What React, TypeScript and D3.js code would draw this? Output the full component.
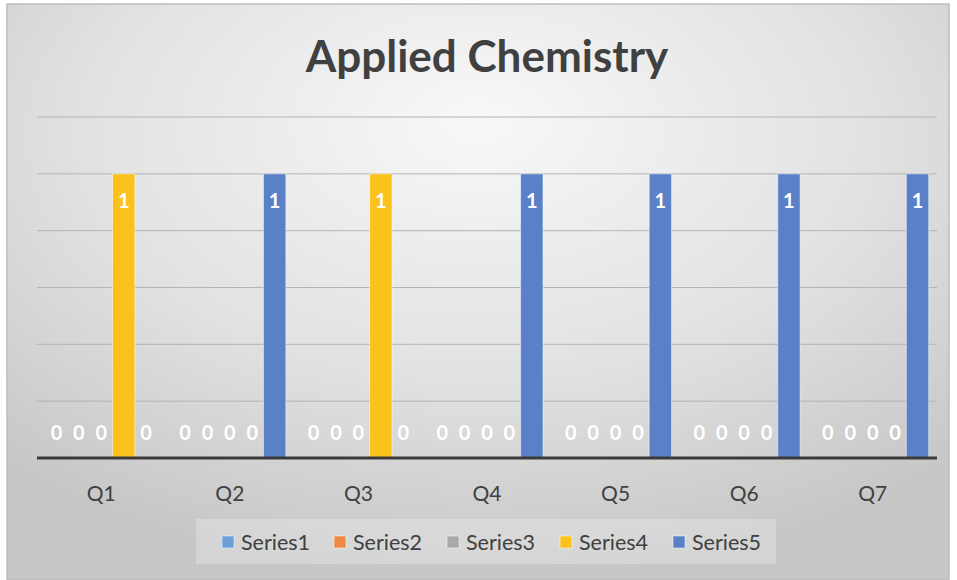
import React from "react";
import * as d3 from "d3";

const categories = ["Q1", "Q2", "Q3", "Q4", "Q5", "Q6", "Q7"];
const seriesNames = ["Series1", "Series2", "Series3", "Series4", "Series5"];
const series1 = [0, 0, 0, 0, 0, 0, 0];
const series2 = [0, 0, 0, 0, 0, 0, 0];
const series3 = [0, 0, 0, 0, 0, 0, 0];
const series4 = [1, 0, 1, 0, 0, 0, 0];
const series5 = [0, 1, 0, 1, 1, 1, 1];
const seriesColors = ["#6A9FD8", "#EE8A45", "#A9A9A9", "#FBC21E", "#5A81C8"];
const yTicks = [0, 0.2, 0.4, 0.6, 0.8, 1, 1.2];

const W = 957;
const H = 580;
const FONT = "Lato, 'Open Sans', sans-serif";

export default function App() {
  const allSeries = [series1, series2, series3, series4, series5];
  const left = 37, right = 937, top = 117, bottom = 458;
  const x0 = d3.scaleBand<string>().domain(categories).range([left, right]).padding(0);
  const x1 = d3.scaleBand<string>().domain(seriesNames).range([0, x0.bandwidth()]).paddingInner(0).paddingOuter(0.37);
  const y = d3.scaleLinear().domain([0, 1.2]).range([bottom, top]);

  const legendX = [222, 334, 447, 560, 673];

  return (
    <svg width={W} height={H} style={{ position: "absolute", left: 0, top: 0, display: "block" }}>
      <defs>
        <radialGradient id="bg" cx="50%" cy="25%" r="75%" fx="50%" fy="20%">
          <stop offset="0%" stopColor="#f8f8f8" />
          <stop offset="55%" stopColor="#e2e2e2" />
          <stop offset="100%" stopColor="#c6c6c6" />
        </radialGradient>
      </defs>
      <rect x={0} y={0} width={W} height={H} fill="#ffffff" />
      <rect x={7} y={4} width={942} height={576} fill="url(#bg)" stroke="#bdbdbd" strokeWidth={1.5} />
      <text x={487} y={72} textAnchor="middle" fontFamily={FONT} fontWeight={700} fontSize={44} fill="#404040">
        Applied Chemistry
      </text>
      {yTicks.filter((t) => t > 0).map((t) => (
        <line key={t} x1={left} x2={right} y1={y(t)} y2={y(t)} stroke="#b4b4b4" strokeWidth={1} />
      ))}
      {categories.map((c, ci) => (
        <g key={c} transform={`translate(${x0(c)},0)`}>
          {seriesNames.map((s, si) => {
            const v = allSeries[si][ci];
            const bx = x1(s)!;
            const bw = x1.bandwidth();
            const cx = bx + bw / 2;
            return (
              <g key={s}>
                {v > 0 && (
                  <rect x={bx} y={y(v)} width={bw} height={y(0) - y(v)} fill={seriesColors[si]} stroke="#ffffff" strokeOpacity={0.5} strokeWidth={1} />
                )}
                {v > 0 ? (
                  <text x={cx} y={y(v) + 26} textAnchor="middle" dominantBaseline="central" fontFamily={FONT} fontWeight={700} fontSize={20} fill="#ffffff">
                    {v}
                  </text>
                ) : (
                  <text x={cx} y={y(0) - 26} textAnchor="middle" dominantBaseline="central" fontFamily={FONT} fontWeight={700} fontSize={20} fill="#ffffff">
                    {v}
                  </text>
                )}
              </g>
            );
          })}
          <text x={x0.bandwidth() / 2} y={492} textAnchor="middle" dominantBaseline="central" fontFamily={FONT} fontSize={21} fill="#404040">
            {c}
          </text>
        </g>
      ))}
      <line x1={left} x2={right} y1={y(0)} y2={y(0)} stroke="#3a3a3a" strokeWidth={3} />
      <rect x={196} y={519} width={580} height={45} fill="#ffffff" fillOpacity={0.25} />
      {seriesNames.map((s, i) => (
        <g key={s}>
          <rect x={legendX[i]} y={536} width={12} height={12} fill={seriesColors[i]} stroke="#ffffff" strokeOpacity={0.5} strokeWidth={1} />
          <text x={legendX[i] + 19} y={542} dominantBaseline="central" fontFamily={FONT} fontSize={21.5} fill="#404040">
            {s}
          </text>
        </g>
      ))}
    </svg>
  );
}
